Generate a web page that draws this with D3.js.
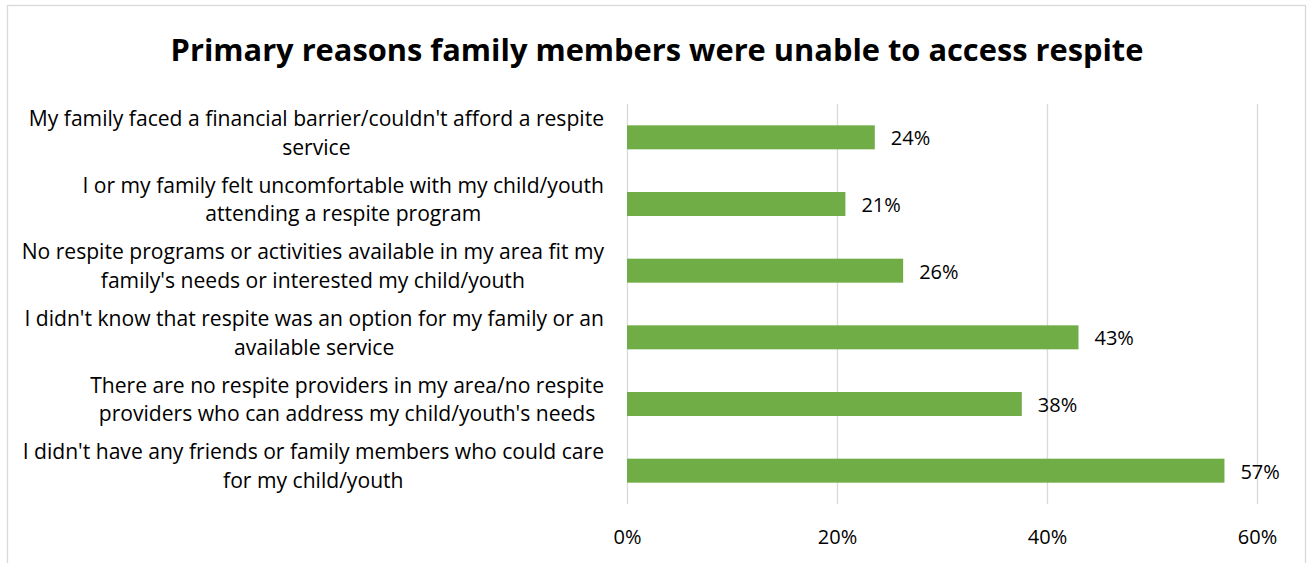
<!DOCTYPE html>
<html>
<head>
<meta charset="utf-8">
<script src="https://cdn.jsdelivr.net/npm/d3@7"></script>
<style>
  html, body { margin: 0; padding: 0; background: #fff; }
  svg { display: block; }
  text { font-family: "Open Sans", "Liberation Sans", Arial, sans-serif; fill: #000; }
</style>
</head>
<body>
<svg id="chart" width="1307" height="563"></svg>
<script>
const title = "Primary reasons family members were unable to access respite";
const categories = [
  ["My family faced a financial barrier/couldn't afford a respite", "service"],
  ["I or my family felt uncomfortable with my child/youth", "attending a respite program"],
  ["No respite programs or activities available in my area fit my", "family's needs or interested my child/youth"],
  ["I didn't know that respite was an option for my family or an", "available service"],
  ["There are no respite providers in my area/no respite", "providers who can address my child/youth's needs"],
  ["I didn't have any friends or family members who could care", "for my child/youth"]
];
const values = [0.236, 0.208, 0.263, 0.430, 0.376, 0.569];
const tickValues = [0, 0.2, 0.4, 0.6];

const svg = d3.select("#chart");
const FONT = "'Open Sans', 'Liberation Sans', Arial, sans-serif";

// chart border
svg.append("rect")
  .attr("x", 7.5).attr("y", 5.5)
  .attr("width", 1298).attr("height", 570)
  .attr("fill", "#fff").attr("stroke", "#d9d9d9").attr("stroke-width", 1.3);

// title
svg.append("text")
  .attr("x", 657).attr("y", 61)
  .attr("text-anchor", "middle")
  .style("font-size", "30.8px").style("font-weight", "bold")
  .text(title);

const x = d3.scaleLinear().domain([0, 0.6]).range([627, 1257]);
const y = d3.scaleBand().domain(d3.range(categories.length)).range([104, 504])
  .paddingInner(0.64).paddingOuter(0.32);

// gridlines + tick labels via axis
const axis = d3.axisBottom(x).tickValues(tickValues).tickFormat(d3.format(".0%"))
  .tickSize(-(504 - 104)).tickPadding(0);
const gAxis = svg.append("g").attr("transform", "translate(0,504)").call(axis);
gAxis.select(".domain").remove();
gAxis.selectAll(".tick line").attr("stroke", "#d9d9d9").attr("stroke-width", 1.3);
gAxis.selectAll(".tick text")
  .attr("y", 40).attr("dy", null)
  .style("font-size", "20px").style("font-family", FONT)
  .attr("fill", "#000");

// bars
svg.append("g").selectAll("rect")
  .data(values)
  .join("rect")
  .attr("x", x(0))
  .attr("y", (d, i) => y(i))
  .attr("width", d => x(d) - x(0))
  .attr("height", y.bandwidth())
  .attr("fill", "#70ad47");

// value labels
svg.append("g").selectAll("text")
  .data(values)
  .join("text")
  .attr("x", d => x(d) + 16)
  .attr("y", (d, i) => y(i) + y.bandwidth() / 2 + 8)
  .style("font-size", "20px")
  .text(d => Math.round(d * 100) + "%");

// category labels: block right-aligned at x=604, lines centered within block
const labelRight = 604;
const lineH = 28.5;
categories.forEach((lines, i) => {
  const g = svg.append("g");
  const cy = y(i) + y.bandwidth() / 2;
  const texts = lines.map((ln, j) => g.append("text")
    .attr("y", cy + (j - (lines.length - 1) / 2) * lineH + 3)
    .attr("text-anchor", "middle")
    .style("font-size", "21.1px")
    .text(ln));
  const maxW = d3.max(texts, t => t.node().getComputedTextLength());
  texts.forEach(t => t.attr("x", labelRight - maxW / 2));
});
</script>
</body>
</html>
